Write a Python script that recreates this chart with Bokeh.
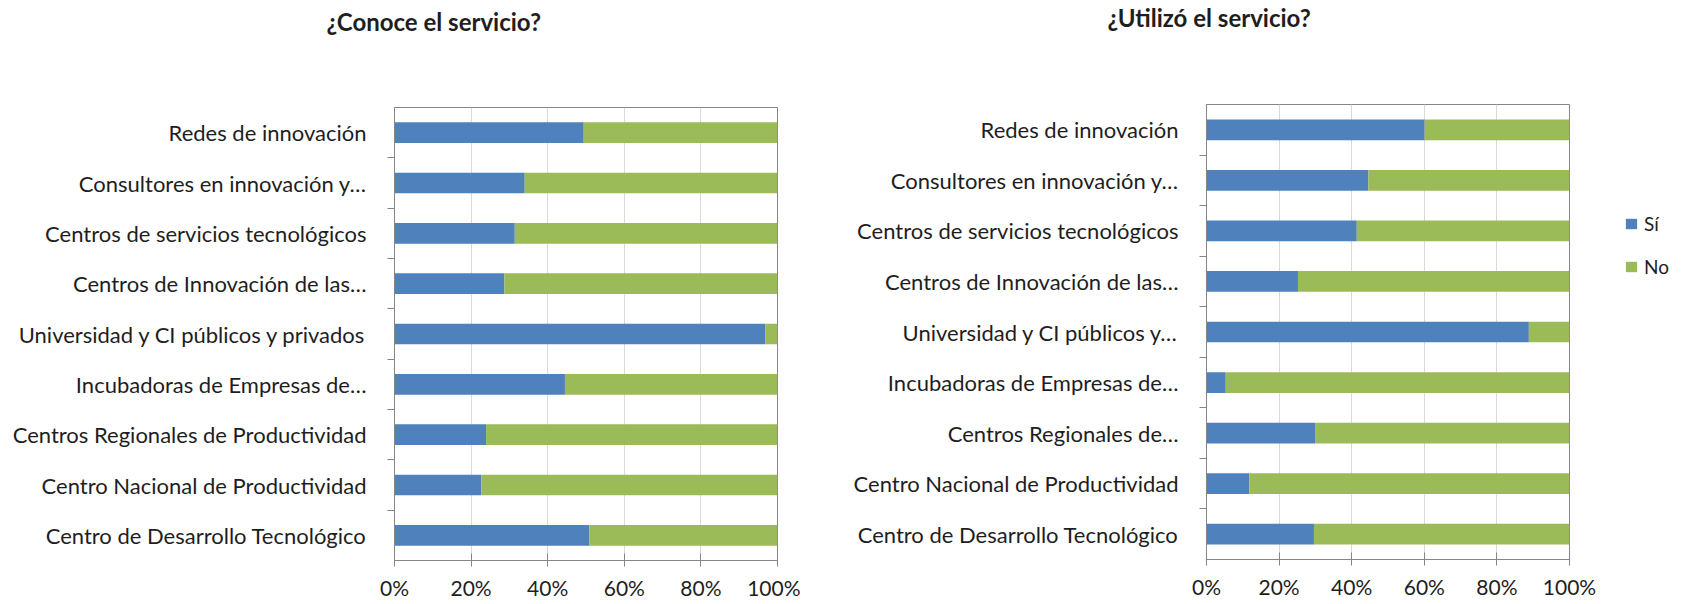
from bokeh.plotting import figure
from bokeh.layouts import row, column
from bokeh.models import (ColumnDataSource, FixedTicker, PrintfTickFormatter, Range1d,
                          Legend, LegendItem)
from bokeh.embed import file_html
from bokeh.resources import INLINE

# ---------------- data (top to bottom, as in the reference) ----------------
labels_conoce = [
    "Redes de innovación",
    "Consultores en innovación y…",
    "Centros de servicios tecnológicos",
    "Centros de Innovación de las…",
    "Universidad y CI públicos y privados",
    "Incubadoras de Empresas de…",
    "Centros Regionales de Productividad",
    "Centro Nacional de Productividad",
    "Centro de Desarrollo Tecnológico",
]
labels_utilizo = [
    "Redes de innovación",
    "Consultores en innovación y…",
    "Centros de servicios tecnológicos",
    "Centros de Innovación de las…",
    "Universidad y CI públicos y…",
    "Incubadoras de Empresas de…",
    "Centros Regionales de…",
    "Centro Nacional de Productividad",
    "Centro de Desarrollo Tecnológico",
]
si_conoce = [49.4, 34.0, 31.4, 28.7, 96.8, 44.5, 23.9, 22.7, 50.9]
no_conoce = [50.6, 66.0, 68.6, 71.3, 3.2, 55.5, 76.1, 77.3, 49.1]
si_utilizo = [60.1, 44.6, 41.4, 25.2, 88.8, 5.3, 29.9, 11.8, 29.6]
no_utilizo = [39.9, 55.4, 58.6, 74.8, 11.2, 94.7, 70.1, 88.2, 70.4]
x_ticks = [0, 20, 40, 60, 80, 100]
series_names = ["Sí", "No"]
titles = ["¿Conoce el servicio?", "¿Utilizó  el servicio?"]

COLORS = ["#4F81BD", "#9BBB59"]
FONT = "Lato"
TEXT = "#1e1e1e"
GRAY = "#868686"
TITLE_H = 50


def blank_figure(width, height, **kw):
    f = figure(width=width, height=height, output_backend="svg", toolbar_location=None,
               x_range=Range1d(0, 1), y_range=Range1d(0, 1),
               x_axis_location=None, y_axis_location=None,
               background_fill_color="white", border_fill_color="white", **kw)
    f.outline_line_color = None
    f.xgrid.visible = False
    f.ygrid.visible = False
    return f


def make_title(text, width, left, top, offset):
    t = blank_figure(width, TITLE_H, min_border_left=left, min_border_right=0,
                     min_border_top=top, min_border_bottom=0)
    t.title.text = text
    t.title.text_font = FONT
    t.title.text_font_size = "24px"
    t.title.text_font_style = "bold"
    t.title.text_color = TEXT
    t.title.align = "left"
    t.title.offset = offset
    t.title.standoff = 0
    return t


def make_chart(labels, si, no, width, height, bl, br, bt, bb):
    n = len(labels)
    ypos = [n - 1 - i for i in range(n)]
    src = ColumnDataSource(dict(y=ypos, si=si, no=no))
    p = figure(width=width, height=height, output_backend="svg", toolbar_location=None,
               x_range=Range1d(0, 100), y_range=Range1d(-0.5, n - 0.5),
               min_border_left=bl, min_border_right=br, min_border_top=bt, min_border_bottom=bb,
               background_fill_color="white", border_fill_color="white")
    rs = p.hbar_stack(["si", "no"], y="y", height=0.41, fill_color=COLORS,
                      line_color=None, source=src)

    p.outline_line_color = GRAY
    p.outline_line_width = 1

    # x axis
    xa = p.xaxis[0]
    xa.ticker = FixedTicker(ticks=x_ticks)
    xa.formatter = PrintfTickFormatter(format="%d%%")
    xa.axis_line_color = GRAY
    xa.major_tick_line_color = GRAY
    xa.major_tick_in = 7
    xa.major_tick_out = 6
    xa.minor_tick_line_color = None
    xa.major_label_standoff = 8
    xa.major_label_text_font = FONT
    xa.major_label_text_font_size = "21px"
    xa.major_label_text_color = TEXT

    # y axis (labels at centres, ticks at category boundaries)
    ya = p.yaxis[0]
    ya.ticker = FixedTicker(ticks=ypos, minor_ticks=[k + 0.5 for k in range(n - 1)])
    ya.major_label_overrides = {y: lab for y, lab in zip(ypos, labels)}
    ya.axis_line_color = GRAY
    ya.major_tick_line_color = None
    ya.major_tick_in = 0
    ya.major_tick_out = 0
    ya.minor_tick_line_color = GRAY
    ya.minor_tick_in = 0
    ya.minor_tick_out = 7
    ya.major_label_standoff = 21
    ya.major_label_text_font = FONT
    ya.major_label_text_font_size = "22px"
    ya.major_label_text_color = TEXT

    p.xgrid.ticker = FixedTicker(ticks=x_ticks)
    p.xgrid.grid_line_color = "#d9d9d9"
    p.ygrid.visible = False
    return p, rs, src


t1 = make_title(titles[0], 800, 394, 35, -68)
t2 = make_title(titles[1], 799, 406, 31, -99)

p1, _, _ = make_chart(labels_conoce, si_conoce, no_conoce,
                      800, 602 - TITLE_H, 394, 23, 107 - TITLE_H, 40)
p2, rs2, src2 = make_chart(labels_utilizo, si_utilizo, no_utilizo,
                           799, 602 - TITLE_H, 406, 30, 104 - TITLE_H, 43)

# legend panel on the far right (its bars lie outside its own view: only the legend shows)
p3 = figure(width=78, height=602, output_backend="svg", toolbar_location=None,
            x_range=Range1d(1000, 1100), y_range=Range1d(1000, 1001),
            x_axis_location=None, y_axis_location=None,
            min_border_left=0, min_border_right=0, min_border_top=0, min_border_bottom=0,
            background_fill_color="white", border_fill_color="white")
p3.outline_line_color = None
p3.xgrid.visible = False
p3.ygrid.visible = False
leg_r = p3.hbar_stack(["si", "no"], y="y", height=0.41, fill_color=COLORS,
                      line_color=None, source=src2)

legend = Legend(items=[LegendItem(label=series_names[0], renderers=[leg_r[0]]),
                       LegendItem(label=series_names[1], renderers=[leg_r[1]])],
                location=(25, 324), orientation="vertical", padding=4, margin=0,
                spacing=20, glyph_width=14, glyph_height=13, label_height=13,
                label_standoff=6, label_text_font=FONT, label_text_font_size="19px",
                label_text_color=TEXT, border_line_color=None, background_fill_alpha=0)
p3.add_layout(legend)

layout = row(column(t1, p1), column(t2, p2), p3)
open("out.html", "w").write(file_html(layout, INLINE))
